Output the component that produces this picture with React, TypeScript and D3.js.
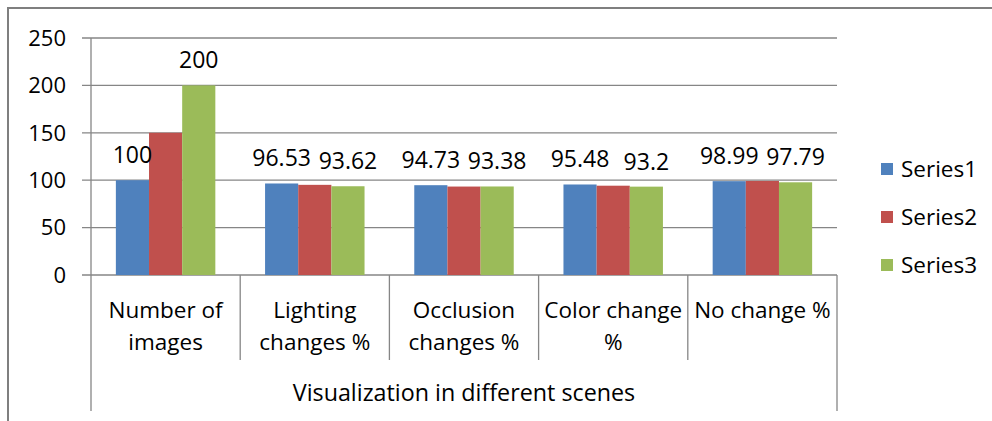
import React from "react";
import * as d3 from "d3";

const categories: string[][] = [
  ["Number of", "images"],
  ["Lighting", "changes %"],
  ["Occlusion", "changes %"],
  ["Color change", "%"],
  ["No change %"],
];
const seriesNames = ["Series1", "Series2", "Series3"];
const series1 = [100, 96.53, 94.73, 95.48, 98.99];
const series2 = [150, 95.1, 93.3, 94.2, 99.2];
const series3 = [200, 93.62, 93.38, 93.2, 97.79];
const yTicks = [0, 50, 100, 150, 200, 250];
const axisTitle = "Visualization in different scenes";
const colors = ["#4F81BD", "#C0504D", "#9BBB59"];
const showLabels = [true, false, true];

const W = 992;
const H = 421;
const FONT = "'Open Sans', 'Liberation Sans', sans-serif";

export default function App() {
  const allSeries = [series1, series2, series3];
  const x0 = d3
    .scaleBand<number>()
    .domain(categories.map((_, i) => i))
    .range([91, 837])
    .paddingInner(0)
    .paddingOuter(0);
  const x1 = d3
    .scaleBand<number>()
    .domain(seriesNames.map((_, i) => i))
    .range([0, x0.bandwidth()])
    .paddingInner(0)
    .paddingOuter(0.75);
  const y = d3.scaleLinear().domain([0, 250]).range([275, 38]);
  const grid = "#868686";
  const bounds = categories.map((_, i) => x0(i) as number).concat([x0.range()[1]]);

  return (
    <svg
      width={W}
      height={H}
      style={{ position: "absolute", left: 0, top: 0, background: "#fff" }}
      fontFamily={FONT}
    >
      <rect x={8} y={8} width={W} height={H} fill="#fff" stroke="#7f7f7f" strokeWidth={2} />
      {yTicks.map((t) => (
        <g key={t}>
          <line x1={82} x2={837} y1={y(t)} y2={y(t)} stroke={grid} strokeWidth={1.3} />
          <text x={66} y={y(t)} dy="0.35em" textAnchor="end" fontSize={22} fill="#000">
            {t}
          </text>
        </g>
      ))}
      <line x1={91} x2={91} y1={y(250)} y2={411} stroke={grid} strokeWidth={1.3} />
      <line x1={837} x2={837} y1={275} y2={411} stroke={grid} strokeWidth={1.3} />
      {bounds.slice(1, -1).map((b, i) => (
        <line key={i} x1={b} x2={b} y1={275} y2={360} stroke={grid} strokeWidth={1.3} />
      ))}
      {allSeries.map((vals, s) =>
        vals.map((v, i) => (
          <rect
            key={`${s}-${i}`}
            x={(x0(i) as number) + (x1(s) as number)}
            y={y(v)}
            width={x1.bandwidth()}
            height={y(0) - y(v)}
            fill={colors[s]}
          />
        ))
      )}
      {allSeries.map((vals, s) =>
        showLabels[s]
          ? vals.map((v, i) => (
              <text
                key={`l${s}-${i}`}
                x={(x0(i) as number) + (x1(s) as number) + x1.bandwidth() / 2}
                y={y(v) - 17}
                textAnchor="middle"
                fontSize={23}
                fill="#000"
              >
                {String(v)}
              </text>
            ))
          : null
      )}
      {categories.map((lines, i) => (
        <text
          key={`c${i}`}
          x={(x0(i) as number) + x0.bandwidth() / 2}
          y={318}
          textAnchor="middle"
          fontSize={22.5}
          fill="#000"
        >
          {lines.map((l, k) => (
            <tspan key={k} x={(x0(i) as number) + x0.bandwidth() / 2} dy={k === 0 ? 0 : 32}>
              {l}
            </tspan>
          ))}
        </text>
      ))}
      <text x={(91 + 837) / 2} y={401} textAnchor="middle" fontSize={23.3} fill="#000">
        {axisTitle}
      </text>
      {seriesNames.map((n, s) => (
        <g key={n}>
          <rect x={881} y={169 + s * 48 - 6} width={12} height={12} fill={colors[s]} />
          <text x={901} y={169 + s * 48} dy="0.35em" fontSize={22.5} fill="#000">
            {n}
          </text>
        </g>
      ))}
    </svg>
  );
}
